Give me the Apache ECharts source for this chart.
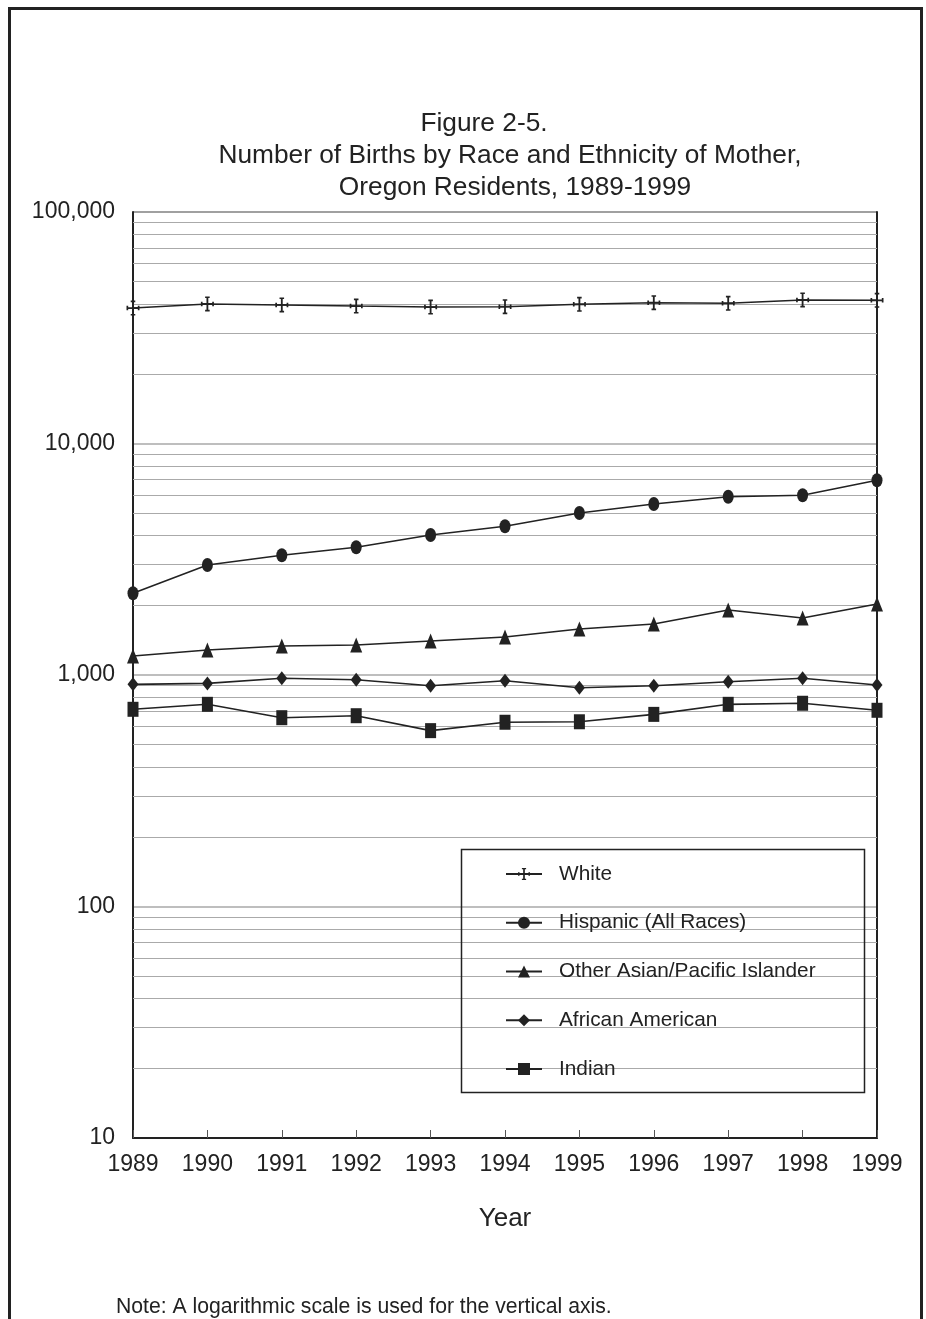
<!DOCTYPE html>
<html>
<head>
<meta charset="utf-8">
<script src="https://cdn.jsdelivr.net/npm/echarts@6/dist/echarts.min.js"></script>
<style>
html,body{margin:0;padding:0;background:#fff;}
#chart{width:926px;height:1319px;}
</style>
</head>
<body>
<div id="chart"></div>
<script>
// ---- data ----
const years = ['1989','1990','1991','1992','1993','1994','1995','1996','1997','1998','1999'];
const seriesNames = ['White','Hispanic (All Races)','Other Asian/Pacific Islander','African American','Indian'];
const white    = [38480, 40050, 39660, 39260, 38870, 38990, 39930, 40570, 40330, 41680, 41550];
const hispanic = [2254, 2987, 3290, 3561, 4025, 4388, 5010, 5478, 5891, 5973, 6934];
const asian    = [1208, 1282, 1335, 1348, 1403, 1459, 1580, 1661, 1910, 1763, 2026];
const african  = [911, 920, 968, 954, 899, 945, 881, 899, 935, 968, 905];
const indian   = [711, 747, 654, 667, 575, 625, 628, 676, 747, 755, 704];
const yMin = 10, yMax = 100000;
const minorGridValues = [
  20,30,40,50,60,70,80,90,
  200,300,400,500,600,700,800,900,
  2000,3000,4000,5000,6000,7000,8000,9000,
  20000,30000,40000,50000,60000,70000,80000,90000
];
const titleLines = ['Figure 2-5.', 'Number of Births by Race and Ethnicity of Mother,', 'Oregon Residents, 1989-1999'];
const xAxisName = 'Year';
const noteText = 'Note: A logarithmic scale is used for the vertical axis.';

// ---- chart ----
const FONT = '"Liberation Sans", Arial, sans-serif';
const INK = '#222';
const crossPath = 'path://M8.6,0h2.8v24h-2.8z M0,10.6h20v2.8h-20z M6.5,0h7v2.6h-7z M6.5,21.4h7v2.6h-7z M0,8.5h2.6v7h-2.6z M17.4,8.5h2.6v7h-2.6z';

const chart = echarts.init(document.getElementById('chart'), null, {renderer: 'canvas'});

function lineSeries(name, data, symbol, size, extra) {
  return Object.assign({
    name: name,
    type: 'line',
    data: data,
    symbol: symbol,
    symbolSize: size,
    showAllSymbol: true,
    z: 3,
    lineStyle: {color: INK, width: 1.6},
    itemStyle: {color: INK, borderWidth: 0},
    emphasis: {disabled: true},
    animation: false
  }, extra || {});
}

const titleStyle = {fontFamily: FONT, fontSize: 26.3, fontWeight: 'normal', color: INK};

const option = {
  backgroundColor: '#fff',
  animation: false,
  title: [
    {text: titleLines[0], left: 479, top: 106, textAlign: 'center', textStyle: titleStyle},
    {text: titleLines[1], left: 505, top: 138, textAlign: 'center', textStyle: titleStyle},
    {text: titleLines[2], left: 510, top: 170, textAlign: 'center', textStyle: titleStyle}
  ],
  grid: {left: 133, right: 49, top: 212, bottom: 181, containLabel: false},
  legend: {
    orient: 'vertical',
    left: 505,
    top: 863,
    padding: 0,
    itemWidth: 36,
    itemHeight: 15,
    itemGap: 26.75,
    selectedMode: false,
    textStyle: {fontFamily: FONT, fontSize: 20.8, color: INK, lineHeight: 22, padding: [0, 0, 0, 12]},
    data: seriesNames
  },
  xAxis: {
    type: 'category',
    data: years,
    boundaryGap: false,
    axisLine: {show: true, lineStyle: {color: INK, width: 2}},
    axisTick: {show: true, inside: true, length: 8, lineStyle: {color: '#555', width: 1}},
    axisLabel: {fontFamily: FONT, fontSize: 23, color: INK, margin: 15},
    splitLine: {show: false},
    name: xAxisName,
    nameLocation: 'middle',
    nameGap: 68,
    nameTextStyle: {fontFamily: FONT, fontSize: 26, color: INK}
  },
  yAxis: [
    {
      type: 'log',
      logBase: 10,
      min: yMin,
      max: yMax,
      axisLine: {show: true, lineStyle: {color: INK, width: 2}},
      axisTick: {show: false},
      axisLabel: {fontFamily: FONT, fontSize: 23, color: INK, margin: 18,
        formatter: v => Number(v).toLocaleString('en-US')},
      splitLine: {show: true, lineStyle: {color: ['#a8a8a8','#a8a8a8','#a8a8a8','#a8a8a8','#808080'], width: 1.5}}
    },
    {
      type: 'log',
      logBase: 10,
      min: yMin,
      max: yMax,
      position: 'right',
      axisLine: {show: true, lineStyle: {color: INK, width: 2}},
      axisTick: {show: false},
      axisLabel: {show: false},
      splitLine: {show: false}
    }
  ],
  series: [
    lineSeries(seriesNames[0], white, crossPath, [13, 15], {
      markLine: {
        silent: true,
        symbol: 'none',
        z: 1,
        animation: false,
        label: {show: false},
        lineStyle: {color: '#aaaaaa', width: 1.2, type: 'solid'},
        emphasis: {disabled: true},
        data: minorGridValues.map(v => ({yAxis: v}))
      }
    }),
    lineSeries(seriesNames[1], hispanic, 'circle', [11, 14]),
    lineSeries(seriesNames[2], asian, 'triangle', [12, 15]),
    lineSeries(seriesNames[3], african, 'diamond', [11, 14]),
    lineSeries(seriesNames[4], indian, 'rect', [11, 15])
  ],
  graphic: [
    {type: 'rect', shape: {x: 9.5, y: 8.5, width: 912, height: 1330},
     style: {fill: 'none', stroke: INK, lineWidth: 3}, z: 100, silent: true},
    {type: 'rect', shape: {x: 461.5, y: 849.5, width: 403, height: 243},
     style: {fill: 'none', stroke: INK, lineWidth: 1.5}, z: 100, silent: true},
    {type: 'text', left: 116, top: 1297, z: 100, silent: true,
     style: {text: noteText, fontFamily: FONT, fontSize: 21.2, fill: INK}}
  ]
};
chart.setOption(option);
</script>
</body>
</html>
